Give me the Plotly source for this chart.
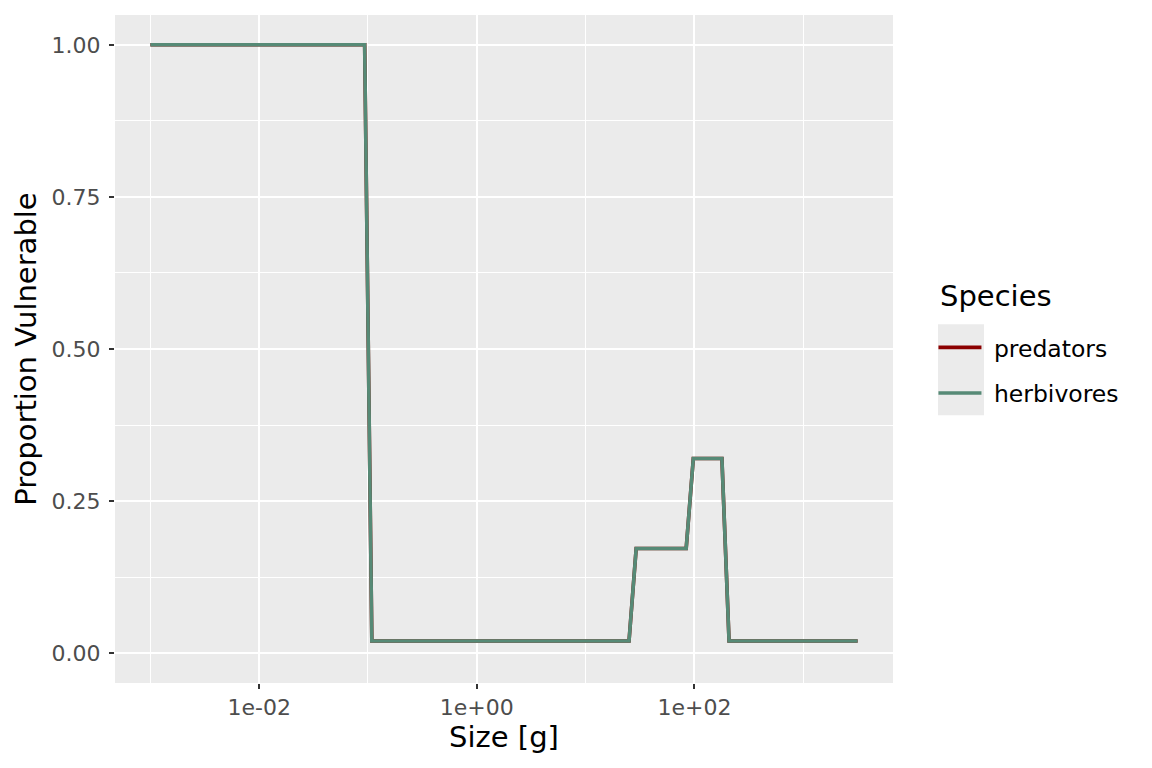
import plotly.graph_objects as go

# corner points of the step curves (size in g, proportion vulnerable)
size_g = [0.001, 0.0932, 0.1085, 25.06, 29.15, 84.0, 97.7, 178.9, 208.1, 3162.3]
predators = [1.0, 1.0, 0.02, 0.02, 0.172, 0.172, 0.32, 0.32, 0.02, 0.02]
herbivores = [1.0, 1.0, 0.02, 0.02, 0.172, 0.172, 0.32, 0.32, 0.02, 0.02]

species = ["predators", "herbivores"]
colours = ["#8B0000", "#568A76"]

x_major = [0.01, 1, 100]
x_major_text = ["1e-02", "1e+00", "1e+02"]
x_minor = [0.001, 0.1, 10, 1000]
y_major = [0, 0.25, 0.5, 0.75, 1.0]
y_major_text = ["0.00", "0.25", "0.50", "0.75", "1.00"]
y_minor = [0.125, 0.375, 0.625, 0.875]

fig = go.Figure()
for name, vals, col in zip(species, [predators, herbivores], colours):
    # a non-breaking space pushes the label away from the key like ggplot
    fig.add_trace(go.Scatter(x=size_g, y=vals, mode="lines", name="\u00a0" + name,
                             legendgroup=name,
                             line=dict(color=col, width=3.6)))

# grey key backgrounds like ggplot legends
fig.add_shape(type="rect", xref="paper", yref="paper",
              x0=1.0578, x1=1.117, y0=0.401, y1=0.537,
              fillcolor="#EBEBEB", line=dict(width=0), layer="below")

# legend title as an annotation so the gap to the keys can be set
fig.add_annotation(text="Species", xref="paper", yref="paper",
                   x=1.058, y=0.579, xanchor="left", yanchor="middle",
                   showarrow=False, font=dict(size=29, color="black"))

# page body has an 8px margin, so shift everything back by that
fig.update_layout(
    width=1144, height=760,
    margin=dict(l=107, r=259, t=7, b=85),
    paper_bgcolor="white", plot_bgcolor="#EBEBEB",
    font=dict(family="DejaVu Sans", size=22, color="#4D4D4D"),
    legend=dict(x=1.052, xanchor="left", y=0.535, yanchor="top",
                font=dict(size=23.5, color="black"),
                tracegroupgap=12, itemwidth=43, bgcolor="rgba(0,0,0,0)"),
)
fig.update_xaxes(type="log", range=[-3.325, 3.825],
                 tickvals=x_major, ticktext=x_major_text,
                 showgrid=True, gridcolor="white", gridwidth=2.2,
                 minor=dict(tickvals=x_minor, showgrid=True, gridcolor="white", gridwidth=1.1),
                 ticks="outside", ticklen=5, tickwidth=2, tickcolor="#333333",
                 zeroline=False, showline=False,
                 title=dict(text="Size [g]", font=dict(size=29, color="black"), standoff=2))
fig.update_yaxes(range=[-0.049, 1.049],
                 tickvals=y_major, ticktext=y_major_text,
                 showgrid=True, gridcolor="white", gridwidth=2.2,
                 minor=dict(tickvals=y_minor, showgrid=True, gridcolor="white", gridwidth=1.1),
                 ticks="outside", ticklen=5, tickwidth=2, tickcolor="#333333",
                 ticklabelstandoff=4,
                 zeroline=False, showline=False,
                 title=dict(text="Proportion Vulnerable", font=dict(size=29, color="black"), standoff=6))

fig.write_html("out.html")
